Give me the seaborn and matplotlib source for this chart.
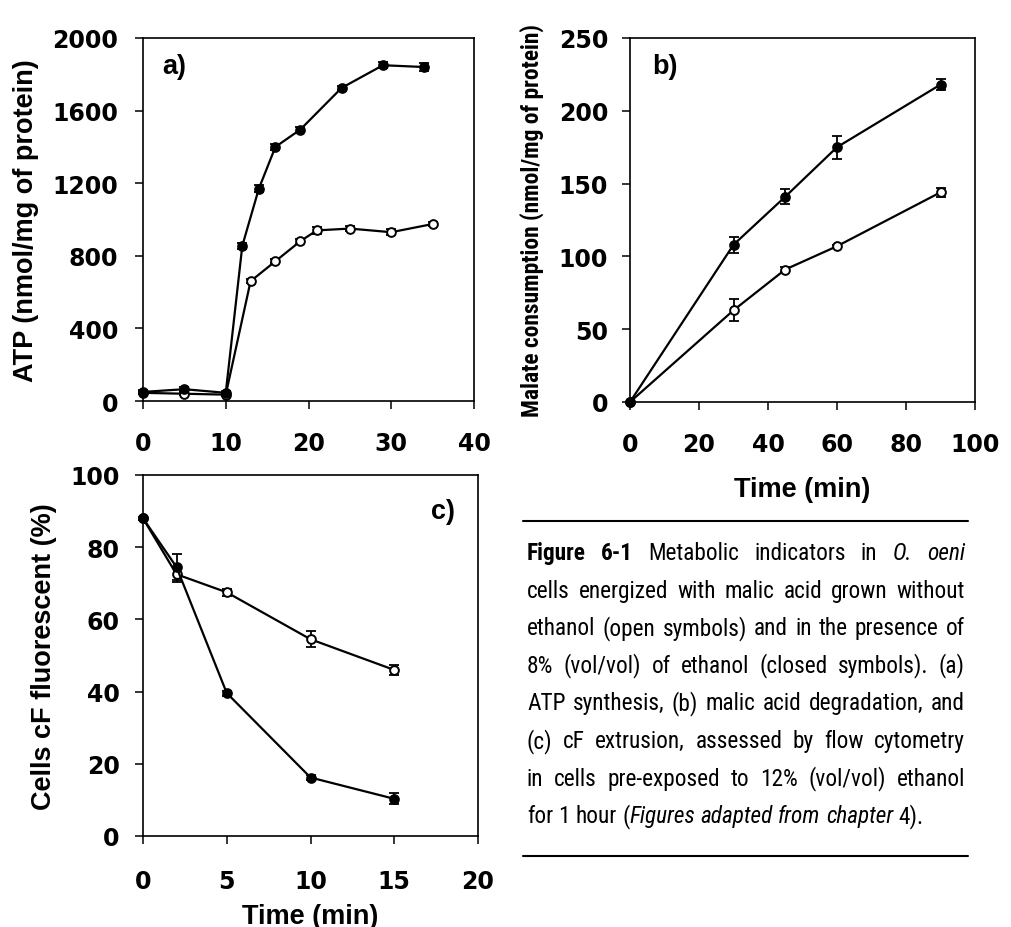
import matplotlib
matplotlib.use("Agg")
import matplotlib.pyplot as plt
import numpy as np
import pandas as pd
import seaborn as sns
from matplotlib import font_manager as fm
from matplotlib.lines import Line2D

# ---------------- data ----------------
# panel a: ATP (nmol/mg of protein) vs time (min)
a_time_closed = [0, 5, 10, 12, 14, 16, 19, 24, 29, 34]
a_atp_closed = [50, 65, 45, 855, 1170, 1400, 1495, 1725, 1850, 1840]
a_err_closed = [10, 12, 10, 15, 18, 15, 15, 12, 18, 20]
a_time_open = [0, 5, 10, 13, 16, 19, 21, 25, 30, 35]
a_atp_open = [45, 40, 35, 660, 770, 880, 940, 950, 930, 975]
a_err_open = [8, 8, 8, 12, 12, 15, 20, 12, 15, 12]

# panel b: malate consumption vs time (min)
b_time = [0, 30, 45, 60, 90]
b_closed = [0, 108, 141, 175, 218]
b_closed_err = [0, 5.5, 5, 8, 4]
b_open = [0, 63, 91, 107, 144]
b_open_err = [0, 7.5, 2, 1, 3]

# panel c: cells cF fluorescent (%) vs time (min)
c_time = [0, 2, 5, 10, 15]
c_closed = [88, 74.5, 39.6, 16.2, 10.3]
c_closed_err = [0.5, 3.6, 0.7, 0.8, 1.5]
c_open = [88, 72.5, 67.5, 54.5, 46]
c_open_err = [0.5, 2.1, 1.0, 2.2, 1.5]

a_xticks = [0, 10, 20, 30, 40]
a_yticks = [0, 400, 800, 1200, 1600, 2000]
b_xticks = [0, 20, 40, 60, 80, 100]
b_yticks = [0, 50, 100, 150, 200, 250]
c_xticks = [0, 5, 10, 15, 20]
c_yticks = [0, 20, 40, 60, 80, 100]

a_ylabel = "ATP (nmol/mg of protein)"
b_ylabel = "Malate consumption (nmol/mg of protein)"
c_ylabel = "Cells cF fluorescent (%)"
time_label = "Time (min)"

caption_lines = [
    [[("Figure", "b")], [("6-1", "b")], [("Metabolic", "n")], [("indicators", "n")],
     [("in", "n")], [("O.", "i")], [("oeni", "i")]],
    "cells energized with malic acid grown without",
    "ethanol (open symbols) and in the presence of",
    "8% (vol/vol) of ethanol (closed symbols). (a)",
    "ATP synthesis, (b) malic acid degradation, and",
    "(c) cF extrusion, assessed by flow cytometry",
    "in cells pre-exposed to 12% (vol/vol) ethanol",
    [[("for", "n")], [("1", "n")], [("hour", "n")], [("(", "n"), ("Figures", "i")],
     [("adapted", "i")], [("from", "i")], [("chapter", "i")], [("4).", "n")]],
]

# ---------------- style ----------------
sns.set_theme(style="ticks", rc={
    "axes.edgecolor": "black", "axes.linewidth": 1.2,
    "xtick.color": "black", "ytick.color": "black",
    "axes.facecolor": "white", "figure.facecolor": "white",
    "text.color": "black", "axes.labelcolor": "black",
})
plt.rcParams["font.family"] = ["DejaVu Sans"]


def find_narrow():
    names = {f.name for f in fm.fontManager.ttflist}
    for cand in ["Liberation Sans Narrow", "Arial Narrow", "Nimbus Sans Narrow",
                 "Roboto Condensed", "Noto Sans Condensed", "Open Sans Condensed"]:
        if cand in names:
            return dict(family=cand)
    for f in fm.fontManager.ttflist:
        if f.name in ("Liberation Sans", "Noto Sans", "Roboto", "Open Sans", "DejaVu Sans") \
                and str(f.stretch) in ("condensed", "semi-condensed"):
            return dict(family=f.name, stretch="condensed")
    return None


LAB = "Liberation Sans"
NARROW = find_narrow()

W, H = 1011, 928
fig = plt.figure(figsize=(W / 100, H / 100), dpi=100)
renderer = fig.canvas.get_renderer()


def box(l, t, r, b):
    return [l / W, 1 - b / H, (r - l) / W, (b - t) / H]


ax_a = fig.add_axes(box(143, 39, 474, 402))
ax_b = fig.add_axes(box(630, 39, 975, 403))
ax_c = fig.add_axes(box(143, 476, 478, 837))


def draw_panel(ax, tc, yc, ec, to, yo, eo):
    dfc = pd.DataFrame({"t": tc, "v": yc, "e": ec})
    dfo = pd.DataFrame({"t": to, "v": yo, "e": eo})
    for df, fc in ((dfo, "white"), (dfc, "black")):
        ax.errorbar(df["t"], df["v"], yerr=df["e"], fmt="none", ecolor="black",
                    elinewidth=1.3, capsize=3.5, capthick=1.3, zorder=2, clip_on=False)
        sns.lineplot(data=df, x="t", y="v", ax=ax, color="black", linewidth=1.6,
                     marker="o", markersize=6.3, markerfacecolor=fc,
                     markeredgecolor="black", markeredgewidth=1.4,
                     errorbar=None, clip_on=False, zorder=3)


draw_panel(ax_a, a_time_closed, a_atp_closed, a_err_closed,
           a_time_open, a_atp_open, a_err_open)
draw_panel(ax_b, b_time, b_closed, b_closed_err, b_time, b_open, b_open_err)
draw_panel(ax_c, c_time, c_closed, c_closed_err, c_time, c_open, c_open_err)

label_font = dict(family=LAB, weight="bold", size=19.5, color="black")

for ax, xt, yt, xpad, ypad in ((ax_a, a_xticks, a_yticks, 16, 12),
                               (ax_b, b_xticks, b_yticks, 16, 10),
                               (ax_c, c_xticks, c_yticks, 18, 11)):
    ax.set_xlim(xt[0], xt[-1])
    ax.set_ylim(yt[0], yt[-1])
    ax.set_xticks(xt)
    ax.set_yticks(yt)
    ax.tick_params(axis="both", direction="out", length=5.8, width=1.1,
                   labelsize=17, top=False, right=False, colors="black")
    ax.tick_params(axis="x", pad=xpad)
    ax.tick_params(axis="y", pad=ypad)
    for lbl in ax.get_xticklabels() + ax.get_yticklabels():
        lbl.set_fontweight("bold")
        lbl.set_family("DejaVu Sans")
    for sp in ax.spines.values():
        sp.set_visible(True)
        sp.set_linewidth(1.2)
        sp.set_color("black")
    ax.set_xlabel("")
    ax.set_ylabel("")


def text_width(text, **kw):
    t = fig.text(0, 0, text, **kw)
    w = t.get_window_extent(renderer).width
    t.remove()
    return w


ax_a.set_ylabel(a_ylabel, **label_font)
ax_a.yaxis.set_label_coords(-0.314, 0.5)
ax_c.set_ylabel(c_ylabel, **label_font)
ax_c.yaxis.set_label_coords(-0.257, 0.5)

# panel b label: condensed bold, sized to span ~392 px
b_font = dict(NARROW) if NARROW else dict(family=LAB)
b_font.update(weight="bold")
bw = text_width(b_ylabel, size=17.5, **b_font)
b_size = min(17.5, 17.5 * 392 / bw)
ax_b.set_ylabel(b_ylabel, size=b_size, color="black", **b_font)
ax_b.yaxis.set_label_coords(-0.249, 0.5)

ax_b.set_xlabel(time_label, **label_font)
ax_b.xaxis.set_label_coords(0.5, -0.203)
ax_c.set_xlabel(time_label, **label_font)
ax_c.xaxis.set_label_coords(0.5, -0.185)

ax_a.text(0.057, 0.923, "a)", transform=ax_a.transAxes, ha="left", va="center", **label_font)
ax_b.text(0.064, 0.923, "b)", transform=ax_b.transAxes, ha="left", va="center", **label_font)
ax_c.text(0.931, 0.90, "c)", transform=ax_c.transAxes, ha="right", va="center", **label_font)

# ---------------- caption (justified) ----------------
cap_base = dict(NARROW) if NARROW else dict(family=LAB)
cap_size = 16.8
CAP_L, CAP_R = 527, 965


def props(style, size):
    d = dict(cap_base)
    d.update(size=size, weight="bold" if style == "b" else "normal",
             style="italic" if style == "i" else "normal", color="black")
    return d


def measure(text, style, size):
    return text_width(text, **props(style, size))


lines = []
for ln in caption_lines:
    if isinstance(ln, str):
        ln = [[(w, "n")] for w in ln.split()]
    lines.append(ln)


def natural_width(ln, size):
    sp = measure("a a", "n", size) - measure("aa", "n", size)
    return sum(measure(s, st, size) for word in ln for s, st in word) + sp * (len(ln) - 1)


maxw = max(natural_width(ln, cap_size) for ln in lines[:-1])
if maxw > 0.975 * (CAP_R - CAP_L):
    cap_size *= 0.975 * (CAP_R - CAP_L) / maxw

space_w = measure("a a", "n", cap_size) - measure("aa", "n", cap_size)
base0, step = 560, 37.6
for i, ln in enumerate(lines):
    widths = [[measure(s, st, cap_size) for s, st in word] for word in ln]
    total = sum(sum(w) for w in widths)
    last = i == len(lines) - 1
    gap = space_w if last else (CAP_R - CAP_L - total) / (len(ln) - 1)
    x = CAP_L
    y = 1 - (base0 + step * i) / H
    for word, ws in zip(ln, widths):
        for (s, st), w in zip(word, ws):
            fig.text(x / W, y, s, ha="left", va="baseline", **props(st, cap_size))
            x += w
        x += gap

for yy in (522, 857):
    fig.add_artist(Line2D([523 / W, 968 / W], [1 - yy / H, 1 - yy / H],
                          transform=fig.transFigure, color="black", linewidth=1.5))

fig.savefig("out.png", dpi=100)
